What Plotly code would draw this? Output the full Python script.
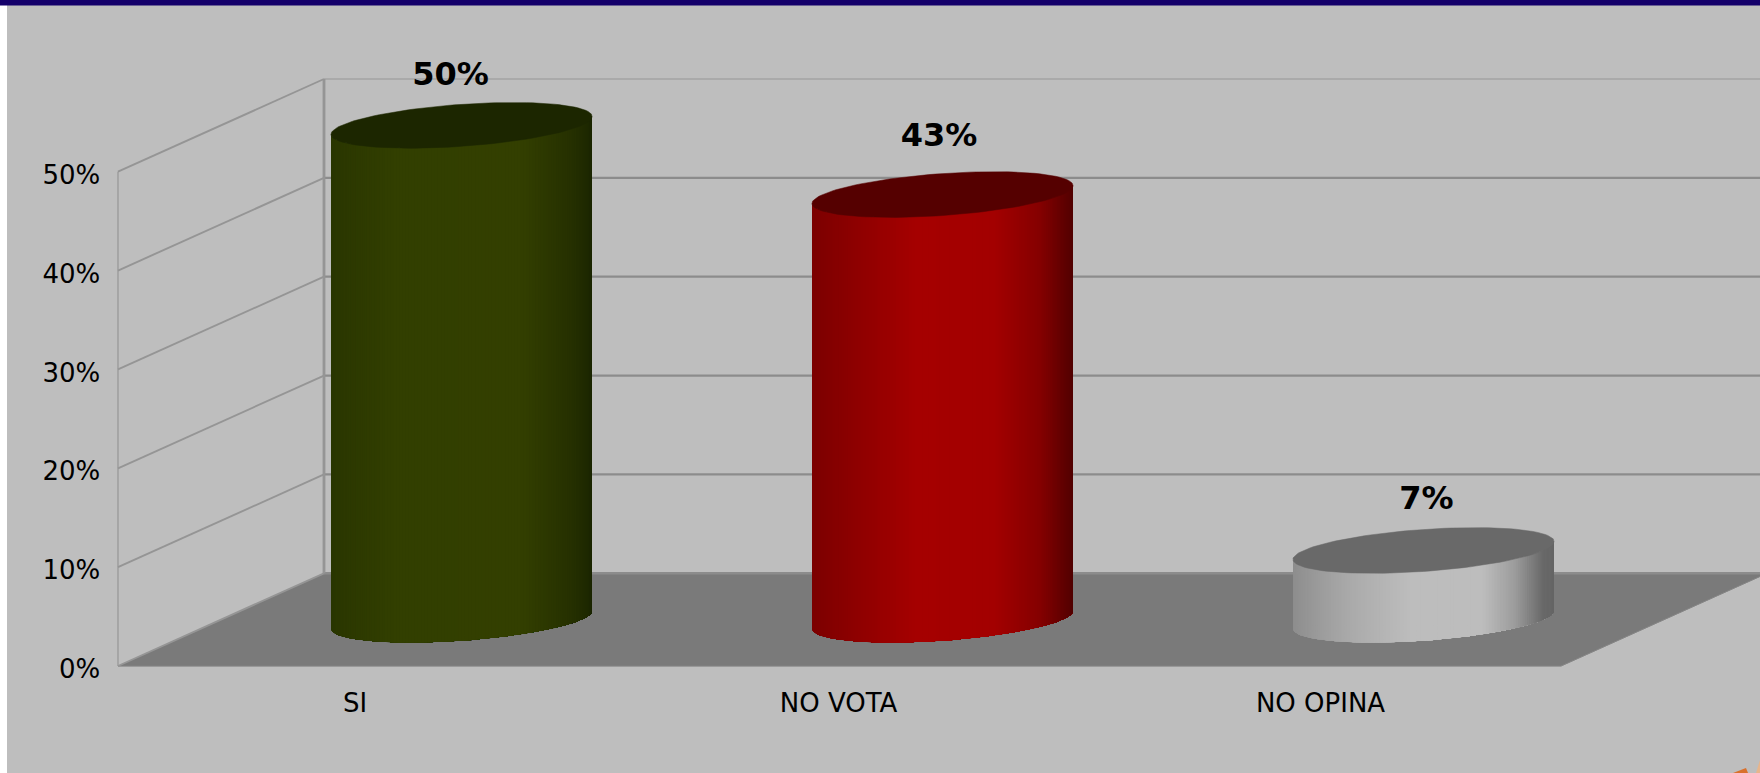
import numpy as np
import plotly.graph_objects as go

# ---- data ----
categories = ["SI", "NO VOTA", "NO OPINA"]
values = [50, 43, 7]
value_labels = ["50%", "43%", "7%"]
y_ticks = [0, 10, 20, 30, 40, 50]
y_tick_labels = ["0%", "10%", "20%", "30%", "40%", "50%"]

# ---- style ----
W, H = 1760, 773
PX_L, PX_R, PX_B, PX_T = 118, 1561, 666, 171.7
CAT_PX = (PX_R - PX_L) / 3.0
VAL_PX = (PX_B - PX_T) / 50.0
DEPTH_X = 206 / CAT_PX      # depth of the 3D box, category units
DEPTH_Y = 92.7 / VAL_PX     # depth of the 3D box, value units
RX = 130.5 / CAT_PX         # cylinder half width
RY = 21 / VAL_PX            # ellipse half height
TILT = 9 / VAL_PX           # ellipse skew
XMAX = 2.5 + DEPTH_X
X_RANGE = [-0.5 - PX_L / CAT_PX, -0.5 + (W - PX_L) / CAT_PX]
Y_RANGE = [-(H - PX_B) / VAL_PX, PX_B / VAL_PX]

side_stops = [
    [(-1, "#2a3600"), (-0.5, "#323f00"), (0.45, "#333f00"), (0.85, "#253000"), (1, "#1c2600")],
    [(-1, "#7c0000"), (-0.5, "#960000"), (-0.2, "#a50000"), (0.4, "#a30000"), (0.75, "#840000"), (1, "#520000")],
    [(-1, "#8e8e8e"), (-0.6, "#a8a8a8"), (-0.1, "#bdbdbd"), (0.45, "#bdbdbd"), (0.7, "#9c9c9c"), (0.92, "#686868"), (1, "#666666")],
]
top_colors = ["#1c2600", "#550000", "#696969"]
label_nudge = [(-0.023, -0.3), (-0.007, 0.53), (0.006, -0.24)]
x_tick_nudge = [-0.007, -0.002, 0.0]
GRID = "#8c8c8c"
THIN = "#959595"

fig = go.Figure()


def poly(x, y, color, line=0.0):
    fig.add_trace(go.Scatter(
        x=list(x), y=list(y), mode="lines", fill="toself", fillcolor=color,
        line=dict(color=color, width=line), hoverinfo="skip", showlegend=False))


def seg(x, y, color, width):
    fig.add_trace(go.Scatter(
        x=list(x), y=list(y), mode="lines", line=dict(color=color, width=width),
        hoverinfo="skip", showlegend=False))


# floor
poly([-0.5, 2.5, XMAX, -0.5 + DEPTH_X], [0, 0, DEPTH_Y, DEPTH_Y], "#7a7a7a", 0.5)
seg([-0.5 + DEPTH_X, XMAX], [DEPTH_Y, DEPTH_Y], GRID, 2.5)
seg([-0.5, 2.5], [0, 0], "#858585", 1)
seg([2.5, XMAX], [0, DEPTH_Y], "#858585", 1)

# walls
for t in y_ticks:
    if t > 0:
        seg([-0.5 + DEPTH_X, XMAX], [t + DEPTH_Y, t + DEPTH_Y], GRID if t < 50 else THIN, 2.2 if t < 50 else 1.2)
    seg([-0.5, -0.5 + DEPTH_X], [t, t + DEPTH_Y], THIN, 1.9)
seg([-0.5, -0.5], [0, 50], THIN, 1.2)
seg([-0.5 + DEPTH_X, -0.5 + DEPTH_X], [DEPTH_Y, 50 + DEPTH_Y], THIN, 2.8)


def lerp_color(stops, u):
    for (u0, c0), (u1, c1) in zip(stops, stops[1:]):
        if u <= u1:
            f = (u - u0) / (u1 - u0)
            a = [int(c0[k:k + 2], 16) for k in (1, 3, 5)]
            b = [int(c1[k:k + 2], 16) for k in (1, 3, 5)]
            return "rgb(%d,%d,%d)" % tuple(round(p + (q - p) * f) for p, q in zip(a, b))
    return stops[-1][1]


# cylinders: each slice runs to the right edge and is over-painted by the next
for i, v in enumerate(values):
    cx = i + DEPTH_X / 2
    base = DEPTH_Y / 2
    us = np.cos(np.linspace(np.pi, 2 * np.pi, 121))
    front = -np.sqrt(np.clip(1 - us ** 2, 0, 1)) * RY + TILT * us
    xs = cx + RX * us
    for j in range(len(us) - 1):
        px = np.concatenate([xs[j:], xs[j:][::-1]])
        py = np.concatenate([base + v + front[j:], (base + front[j:])[::-1]])
        poly(px, py, lerp_color(side_stops[i], (us[j] + us[j + 1]) / 2))
    t = np.linspace(0, 2 * np.pi, 121)
    poly(cx + RX * np.cos(t), base + v + RY * np.sin(t) + TILT * np.cos(t), top_colors[i], 0.5)

# value labels
for i, v in enumerate(values):
    fig.add_trace(go.Scatter(
        x=[i + DEPTH_X / 2 + label_nudge[i][0]],
        y=[v + DEPTH_Y / 2 + 5.2 + label_nudge[i][1]],
        mode="text", text=[value_labels[i]], textposition="middle center",
        textfont=dict(family="DejaVu Sans", size=32, color="#000000"),
        texttemplate="<b>%{text}</b>", hoverinfo="skip", showlegend=False))

fig.update_layout(
    autosize=True, margin=dict(l=0, r=0, t=0, b=0, pad=0),
    paper_bgcolor="#ffffff", plot_bgcolor="rgba(0,0,0,0)", showlegend=False,
    font=dict(family="DejaVu Sans", size=26, color="#000000"),
    xaxis=dict(
        domain=[0, 1], range=X_RANGE, anchor="free", position=(H - PX_B) / H,
        tickmode="array", tickvals=[k + n for k, n in enumerate(x_tick_nudge)], ticktext=categories,
        showgrid=False, zeroline=False, showline=False, ticks="outside", ticklen=14,
        tickcolor="rgba(0,0,0,0)", tickfont=dict(size=26)),
    yaxis=dict(
        domain=[0, 1], range=Y_RANGE, anchor="free", position=PX_L / W,
        tickmode="array", tickvals=y_ticks, ticktext=y_tick_labels, showgrid=False,
        zeroline=False, showline=False, ticks="outside", ticklen=12.5,
        tickcolor="rgba(0,0,0,0)", tickfont=dict(size=26), ticklabelshift=3),
    shapes=[
        dict(type="rect", xref="paper", yref="paper", x0=7 / W, x1=1, y0=0, y1=1,
             fillcolor="#bebebe", line_width=0, layer="below"),
        dict(type="rect", xref="paper", yref="paper", x0=0, x1=1, y0=1 - 5.5 / H, y1=1,
             fillcolor="#14006a", line_width=0, layer="above"),
        dict(type="path", xref="paper", yref="paper", fillcolor="#d9702c", line_width=0, layer="above",
             path="M %f %f L %f %f L %f %f Z" % (1733 / W, 0, 1746 / W, 5 / H, 1748 / W, 0)),
        dict(type="path", xref="paper", yref="paper", fillcolor="#e8b58c", line_width=0, layer="above",
             path="M %f %f L %f %f L %f %f Z" % (1756 / W, 0, 1760 / W, 13 / H, 1760 / W, 0)),
    ],
)

fig.write_html("out.html", config={"displayModeBar": False},
               post_script="document.body.style.margin='0';document.documentElement.style.height='100%';document.body.style.height='100%';Plotly.Plots.resize(document.querySelector('.plotly-graph-div'));")
